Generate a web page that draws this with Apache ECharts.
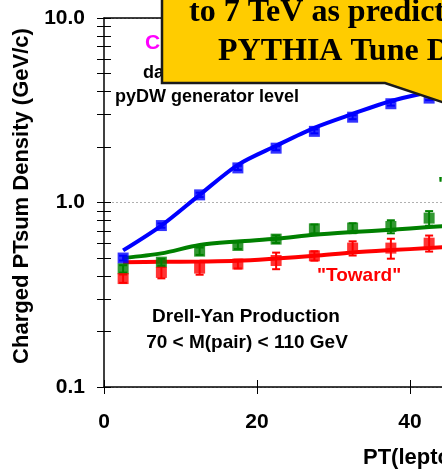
<!DOCTYPE html>
<html>
<head>
<meta charset="utf-8">
<script src="https://cdn.jsdelivr.net/npm/echarts@6/dist/echarts.min.js"></script>
<style>
html, body { margin: 0; padding: 0; background: #fff; }
#chart { width: 442px; height: 476px; }
</style>
</head>
<body>
<div id="chart"></div>
<script>
// PT(lepton-pair) bin centres
const ptBins = [2.5, 7.5, 12.5, 17.5, 22.5, 27.5, 32.5, 37.5, 42.5];
// data points + errors
const awayData = [0.50, 0.75, 1.10, 1.54, 1.97, 2.43, 2.90, 3.43, 3.68];
const awayErr = [0.015, 0.02, 0.03, 0.04, 0.05, 0.06, 0.07, 0.08, 0.09];
const transData = [0.437, 0.475, 0.545, 0.585, 0.633, 0.72, 0.727, 0.741, 0.823];
const transErr = [0.02, 0.02, 0.025, 0.025, 0.03, 0.04, 0.045, 0.06, 0.075];
const towardData = [0.387, 0.418, 0.441, 0.464, 0.485, 0.514, 0.566, 0.566, 0.602];
const towardErr = [0.02, 0.03, 0.035, 0.025, 0.05, 0.03, 0.05, 0.07, 0.06];
// pyDW generator level curves
const curveX = [2.5, 7.5, 12.5, 17.5, 22.5, 27.5, 32.5, 37.5, 42.5, 47.5];
const awayCurve = [0.55, 0.75, 1.10, 1.60, 2.03, 2.54, 3.02, 3.55, 3.97, 4.4];
const transCurve = [0.50, 0.53, 0.588, 0.615, 0.636, 0.668, 0.691, 0.711, 0.736, 0.76];
const towardCurve = [0.475, 0.477, 0.479, 0.483, 0.497, 0.514, 0.536, 0.552, 0.566, 0.585];
// axis ticks
const xTicks = [0, 20, 40, 60];
const yLabels = [0.1, 1, 10];
const yTicks = [0.1, 0.2, 0.3, 0.4, 0.5, 0.6, 0.7, 0.8, 0.9, 1, 2, 3, 4, 5, 6, 7, 8, 9, 10];

const BLUE = '#0000ff', GREEN = '#008000', RED = '#ff0000';
const SANS = '"Liberation Sans", Arial, sans-serif';
const SERIF = '"Liberation Serif", "Times New Roman", serif';

const chart = echarts.init(document.getElementById('chart'));

function pairs(xs, ys) { return xs.map((x, i) => [x, ys[i]]); }
function withErr(xs, ys, es) { return xs.map((x, i) => [x, ys[i], es[i]]); }

function errBars(name, color, data) {
    return {
        name: name, type: 'custom', xAxisIndex: 0, yAxisIndex: 0, z: 4,
        data: data,
        renderItem: function (params, api) {
            const x = api.value(0), y = api.value(1), e = api.value(2);
            const hi = api.coord([x, y + e]);
            const lo = api.coord([x, y - e]);
            const w = 4;
            return {
                type: 'group',
                children: [
                    { type: 'line', shape: { x1: hi[0], y1: hi[1], x2: lo[0], y2: lo[1] }, style: { stroke: color, lineWidth: 2 } },
                    { type: 'line', shape: { x1: hi[0] - w, y1: hi[1], x2: hi[0] + w, y2: hi[1] }, style: { stroke: color, lineWidth: 2 } },
                    { type: 'line', shape: { x1: lo[0] - w, y1: lo[1], x2: lo[0] + w, y2: lo[1] }, style: { stroke: color, lineWidth: 2 } }
                ]
            };
        }
    };
}

function curve(name, color, ys) {
    return {
        name: name, type: 'line', xAxisIndex: 0, yAxisIndex: 0, z: 2,
        data: pairs(curveX, ys), showSymbol: false, smooth: 0.3,
        lineStyle: { color: color, width: 4 }
    };
}

function points(name, color, ys) {
    return {
        name: name, type: 'scatter', xAxisIndex: 0, yAxisIndex: 0, z: 5,
        data: pairs(ptBins, ys), symbol: 'rect', symbolSize: 11,
        itemStyle: { color: color }
    };
}

const baseX = { type: 'value', min: 0, max: 60, interval: 20, splitLine: { show: false } };
const baseY = { type: 'log', min: 0.1, max: 10, logBase: 10, splitLine: { show: false } };

const option = {
    animation: false,
    grid: { left: 104, top: 18, bottom: 89, right: -121, containLabel: false, outerBoundsMode: 'none' },
    xAxis: [
        Object.assign({}, baseX, {
            position: 'bottom',
            axisLine: { lineStyle: { color: '#000', width: 1.5 } },
            axisTick: { inside: true, length: 7, lineStyle: { color: '#000' } },
            axisLabel: { margin: 25, color: '#000', fontSize: 21, fontWeight: 'bold', fontFamily: SANS,
                customValues: xTicks }
        }),
        Object.assign({}, baseX, {
            position: 'bottom',
            axisLine: { show: false },
            axisTick: { inside: false, length: 7, lineStyle: { color: '#000' } },
            axisLabel: { show: false }
        }),
        Object.assign({}, baseX, {
            position: 'top',
            axisLine: { lineStyle: { color: '#000', width: 1.5 } },
            axisTick: { show: false },
            axisLabel: { show: false }
        })
    ],
    yAxis: [
        Object.assign({}, baseY, {
            position: 'left',
            axisLine: { lineStyle: { color: '#000', width: 1.5 } },
            axisTick: { show: false },
            splitLine: { show: true, lineStyle: { color: '#b0b0b0', type: [2, 2], width: 1 } },
            axisLabel: { margin: 19, color: '#000', fontSize: 21, fontWeight: 'bold', fontFamily: SANS,
                customValues: yLabels,
                formatter: v => Number(v).toFixed(1) }
        }),
        Object.assign({}, baseY, {
            position: 'left',
            axisLine: { show: false },
            axisTick: { inside: true, length: 7, lineStyle: { color: '#000' }, customValues: yTicks },
            axisLabel: { show: false }
        }),
        Object.assign({}, baseY, {
            position: 'left',
            axisLine: { show: false },
            axisTick: { inside: false, length: 7, lineStyle: { color: '#000' }, customValues: yTicks },
            axisLabel: { show: false }
        })
    ],
    series: [
        curve('Away pyDW', BLUE, awayCurve),
        curve('Transverse pyDW', GREEN, transCurve),
        curve('Toward pyDW', RED, towardCurve),
        errBars('Away err', BLUE, withErr(ptBins, awayData, awayErr)),
        errBars('Transverse err', GREEN, withErr(ptBins, transData, transErr)),
        errBars('Toward err', RED, withErr(ptBins, towardData, towardErr)),
        points('Away', BLUE, awayData),
        points('Transverse', GREEN, transData),
        points('Toward', RED, towardData)
    ],
    graphic: [
        // axis titles
        { type: 'text', x: 22, y: 196, rotation: Math.PI / 2, z: 10, style: { text: 'Charged PTsum Density (GeV/c)',
            fill: '#000', font: 'bold 22px ' + SANS, align: 'center', verticalAlign: 'middle' } },
        { type: 'text', x: 363, y: 458, z: 10, style: { text: 'PT(lepton-pair) (GeV/c)', fill: '#000',
            font: 'bold 22px ' + SANS, verticalAlign: 'middle' } },
        // in-plot annotations
        { type: 'text', x: 145, y: 43, z: 10, style: { text: 'CDF Run 2 Preliminary', fill: '#ff00ff',
            font: 'bold 21px ' + SANS, verticalAlign: 'middle' } },
        { type: 'text', x: 143, y: 73, z: 10, style: { text: 'data uncorrected', fill: '#000',
            font: 'bold 18px ' + SANS, verticalAlign: 'middle' } },
        { type: 'text', x: 115, y: 97, z: 10, style: { text: 'pyDW generator level', fill: '#000',
            font: 'bold 18px ' + SANS, verticalAlign: 'middle' } },
        { type: 'text', x: 317, y: 276, z: 10, style: { text: '"Toward"', fill: RED,
            font: 'bold 19px ' + SANS, verticalAlign: 'middle' } },
        { type: 'text', x: 438, y: 185, z: 10, style: { text: '"Transverse"', fill: GREEN,
            font: 'bold 19px ' + SANS, verticalAlign: 'middle' } },
        { type: 'text', x: 246, y: 317, z: 10, style: { text: 'Drell-Yan Production', fill: '#000',
            font: 'bold 19px ' + SANS, align: 'center', verticalAlign: 'middle' } },
        { type: 'text', x: 247, y: 343, z: 10, style: { text: '70 < M(pair) < 110 GeV', fill: '#000',
            font: 'bold 19px ' + SANS, align: 'center', verticalAlign: 'middle' } },
        // callout box
        { type: 'polygon', z: 20,
            shape: { points: [[162, -10], [162, 83], [385, 83], [520, 128], [520, -10]] },
            style: { fill: '#ffcc00', stroke: '#1a1a1a', lineWidth: 2.5 } },
        { type: 'text', x: 189, y: 13, z: 21, style: { text: 'to 7 TeV as predicted by', fill: '#000',
            font: 'bold 32px ' + SERIF, verticalAlign: 'middle' } },
        { type: 'text', x: 218, y: 52, z: 21, style: { text: 'PYTHIA Tune DW', fill: '#000',
            font: 'bold 32px ' + SERIF, verticalAlign: 'middle' } }
    ]
};

chart.setOption(option);
</script>
</body>
</html>
